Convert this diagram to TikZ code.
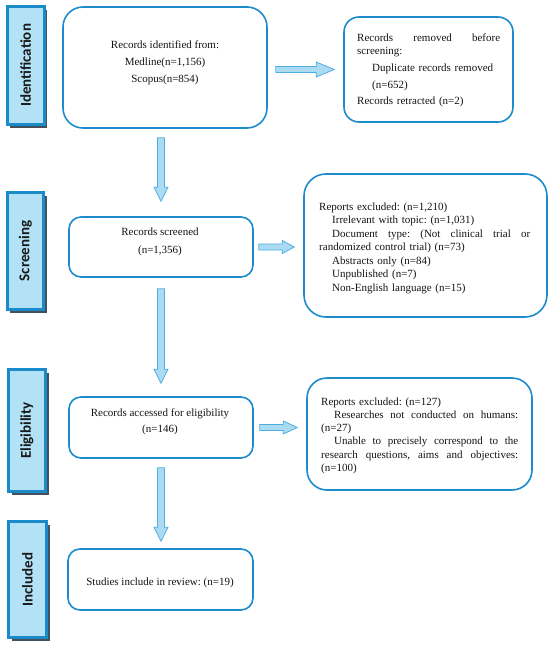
\documentclass[tikz,border=0pt]{standalone}
\usepackage{fontspec}
\setmainfont{Liberation Serif}
\newfontfamily\labfont{Carlito}
\frenchspacing
\usetikzlibrary{calc,shadows}
\definecolor{boxblue}{HTML}{1C8CCD}
\definecolor{arrfill}{HTML}{ABDBF3}
\definecolor{arrdraw}{HTML}{4FAEE0}
\definecolor{labfill}{HTML}{B3E2F6}
\definecolor{labdraw}{HTML}{1A8AC8}
\definecolor{labshadow}{HTML}{44505A}
\tikzset{
  mainbox/.style={draw=boxblue, line width=1.6pt, inner sep=0pt},
  phase/.style={draw=labdraw, fill=labfill, line width=2.8pt, inner sep=0pt, rotate=90,
    font=\labfont\bfseries\fontsize{15}{18}\selectfont, text=black!90,
    drop shadow={shadow xshift=3.2pt, shadow yshift=-3.2pt, fill=labshadow, opacity=1}},
  txt/.style={inner sep=0pt, text=black!92},
  fatarr/.style={draw=arrdraw, fill=arrfill, line width=0.8pt, line join=miter},
}
\newcommand\downarr[2]{\draw[fatarr] let \p1=(#1), \p2=(#2) in
  (\x1-3.5pt,\y1) -- (\x1-3.5pt,\y2+14pt) -- (\x1-7pt,\y2+14pt) -- (\x1,\y2) --
  (\x1+7pt,\y2+14pt) -- (\x1+3.5pt,\y2+14pt) -- (\x1+3.5pt,\y1) -- cycle;}
\newcommand\rightarr[4]{\draw[fatarr] let \p1=(#1), \p2=(#2) in
  (\x1,\y1+3pt) -- (\x2-#3,\y1+3pt) -- (\x2-#3,\y1+#4) -- (\x2,\y1) --
  (\x2-#3,\y1-#4) -- (\x2-#3,\y1-3pt) -- (\x1,\y1-3pt) -- cycle;}
\newcommand\jline[2]{\leavevmode\hbox to #1{#2}}
\begin{document}
\begin{tikzpicture}[x=1pt,y=-1pt]
\useasboundingbox (0,0) rectangle (550,650);
\fill[white] (0,0) rectangle (550,650);

% phase labels
\node[phase, minimum width=118pt, minimum height=37pt] (L1) at (25.6,65.4) {Identification};
\node[phase, minimum width=117pt, minimum height=36.5pt] (L2) at (25.5,251) {Screening};
\node[phase, minimum width=122pt, minimum height=37.4pt] (L3) at (27,430.5) {Eligibility};
\node[phase, minimum width=116pt, minimum height=38pt] (L4) at (27.5,579.5) {Included};

% main boxes
\node[mainbox, rounded corners=20pt, minimum width=204pt, minimum height=121pt] (b1) at (165,67.5) {};
\node[mainbox, rounded corners=12pt, minimum width=184pt, minimum height=60pt] (b2) at (161,247) {};
\node[mainbox, rounded corners=12pt, minimum width=184pt, minimum height=61pt] (b3) at (161,427.5) {};
\node[mainbox, rounded corners=12pt, minimum width=185pt, minimum height=61pt] (b4) at (160.5,579.5) {};

% side boxes
\node[mainbox, rounded corners=15pt, minimum width=169pt, minimum height=105pt] (r1) at (428.5,69.5) {};
\node[mainbox, rounded corners=22pt, minimum width=243pt, minimum height=143pt] (r2) at (425.5,245.5) {};
\node[mainbox, rounded corners=20pt, minimum width=225pt, minimum height=112pt] (r3) at (419.5,434) {};

% texts
\node[txt, anchor=north, align=center, font=\fontsize{11}{17}\selectfont] (t1) at (165,40.4)
  {Records identified from:\\Medline(n=1,156)\\Scopus(n=854)};
\node[txt, anchor=north, align=center, font=\fontsize{11}{18}\selectfont] (t2) at (160,227.4)
  {Records screened\\(n=1,356)};
\node[txt, anchor=north, align=center, font=\fontsize{11}{16}\selectfont] (t3) at (160,408.4)
  {Records accessed for eligibility\\(n=146)};
\node[txt, anchor=base, font=\fontsize{11}{13}\selectfont] (t4) at (160,585)
  {Studies include in review: (n=19)};

\node[txt, anchor=north west, text width=143pt, align=left, font=\fontsize{11}{13}\selectfont] (tr1) at (357,33.4)
  {\jline{143pt}{Records\hfill removed\hfill before}\\
   screening:\\[4pt]
   \hspace*{15pt}Duplicate records removed\\[4pt]
   \hspace*{15pt}(n=652)\\[3pt]
   Records retracted (n=2)};
\node[txt, anchor=north west, text width=211pt, align=left, font=\fontsize{11}{13.5}\selectfont] (tr2) at (319,202.4)
  {Reports excluded: (n=1,210)\\
   \hspace*{13pt}Irrelevant with topic: (n=1,031)\\
   \hspace*{13pt}\jline{198pt}{Document\hfill type:\hfill (Not\hfill clinical\hfill trial\hfill or}\\
   randomized control trial) (n=73)\\
   \hspace*{13pt}Abstracts only (n=84)\\
   \hspace*{13pt}Unpublished (n=7)\\
   \hspace*{13pt}Non-English language (n=15)};
\node[txt, anchor=north west, text width=197pt, align=left, font=\fontsize{11}{13.2}\selectfont] (tr3) at (321,397.4)
  {Reports excluded: (n=127)\\
   \hspace*{13pt}\jline{184pt}{Researches\hfill not\hfill conducted\hfill on\hfill humans:}\\
   (n=27)\\
   \hspace*{13pt}\jline{184pt}{Unable\hfill to\hfill precisely\hfill correspond\hfill to\hfill the}\\
   \jline{197pt}{research\hfill questions,\hfill aims\hfill and\hfill objectives:}\\
   (n=100)};

% connector end points
\coordinate (d1s) at ($(b1.south -| b2.north)+(0,9)$);
\coordinate (d1e) at ($(b2.north)+(0,-15)$);
\coordinate (d2s) at ($(b2.south)+(0,11)$);
\coordinate (d2e) at ($(b3.north)+(0,-13)$);
\coordinate (d3s) at ($(b3.south)+(0,9)$);
\coordinate (d3e) at ($(b4.north)+(0,-7)$);
\coordinate (h1s) at ($(b1.east |- r1.west)+(8,0)$);
\coordinate (h1e) at ($(r1.west)+(-9,0)$);
\coordinate (h2s) at ($(b2.east)+(5,0)$);
\coordinate (h2e) at ($(b2.east -| r2.west)+(-9,0)$);
\coordinate (h3s) at ($(b3.east)+(6,0)$);
\coordinate (h3e) at ($(b3.east -| r3.west)+(-9,0)$);

\downarr{d1s}{d1e}
\downarr{d2s}{d2e}
\downarr{d3s}{d3e}
\rightarr{h1s}{h1e}{18pt}{7.5pt}
\rightarr{h2s}{h2e}{12pt}{6.5pt}
\rightarr{h3s}{h3e}{14pt}{6.5pt}
\end{tikzpicture}
\end{document}
